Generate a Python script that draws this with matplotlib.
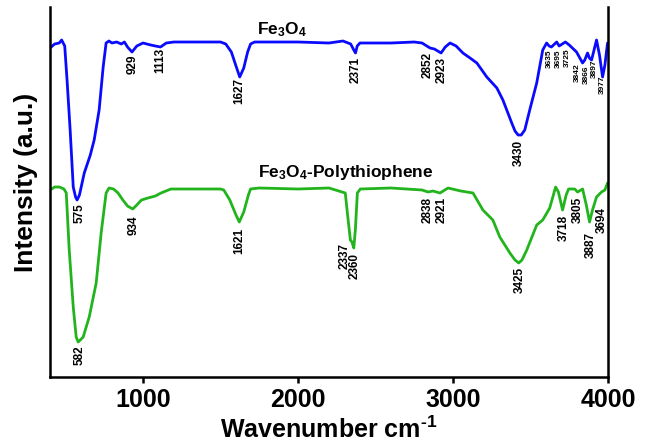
import numpy as np
import matplotlib
matplotlib.use("Agg")
import matplotlib.pyplot as plt

plt.rcParams['font.family'] = ['Liberation Sans', 'DejaVu Sans']
plt.rcParams['mathtext.fontset'] = 'custom'
plt.rcParams['mathtext.rm'] = 'Liberation Sans:bold'
plt.rcParams['mathtext.bf'] = 'Liberation Sans:bold'
plt.rcParams['mathtext.it'] = 'Liberation Sans:bold'

# ---- data (intensity in arbitrary units) ----
fe3o4_wn = [400, 430, 460, 475, 485, 495, 510, 530, 550, 565, 575, 590, 621, 660, 685, 717, 743, 762,
            780, 800, 830, 860, 880, 900, 929, 960, 1000, 1050, 1080, 1113, 1150, 1200, 1500, 1534,
            1570, 1600, 1624, 1650, 1675, 1694, 1720, 2000, 2200, 2290, 2340, 2360, 2371, 2382, 2400,
            2600, 2750, 2800, 2852, 2880, 2923, 2950, 2981, 3020, 3064, 3110, 3154, 3218, 3283, 3322,
            3379, 3400, 3420, 3440, 3463, 3495, 3540, 3579, 3604, 3620, 3635, 3669, 3685, 3695, 3725,
            3750, 3797, 3836, 3850, 3868, 3880, 3894, 3910, 3926, 3945, 3965, 3980, 3997]
fe3o4_int = [329, 333, 334, 337, 334, 331, 297, 247, 190, 180, 177, 182, 204, 222, 237, 267, 310, 334,
             336, 334, 335, 333, 335, 330, 325, 331, 334, 332, 331, 330, 334, 335, 335, 333,
             325, 311, 300, 309, 325, 333, 335, 335, 334, 336, 333, 327, 324, 331, 334,
             334, 335, 334, 329, 328, 324, 330, 334, 331, 324, 319, 314, 300, 289, 277,
             254, 246, 242, 242, 247, 267, 294, 327, 334, 331, 330, 335, 331, 332, 335,
             332, 325, 314, 317, 324, 319, 317, 327, 337, 322, 300, 312, 334]

ptp_wn = [400, 430, 460, 490, 505, 524, 550, 569, 582, 595, 614, 653, 698, 730, 762, 781, 810, 839,
          870, 900, 934, 960, 990, 1032, 1080, 1116, 1180, 1500, 1521, 1560, 1600, 1621, 1650, 1680,
          1694, 1750, 2000, 2200, 2305, 2320, 2338, 2348, 2360, 2370, 2383, 2402, 2600, 2700, 2800,
          2839, 2871, 2916, 2968, 3050, 3129, 3193, 3257, 3302, 3367, 3400, 3424, 3445, 3476, 3540,
          3579, 3624, 3662, 3680, 3707, 3730, 3746, 3785, 3804, 3836, 3860, 3881, 3900, 3926, 3958,
          3980, 3997]
ptp_int = [187, 190, 190, 188, 184, 127, 70, 40, 35, 37, 40, 60, 94, 144, 184, 189, 188, 184,
           177, 171, 168, 172, 177, 179, 181, 184, 188, 188, 187, 177, 162, 155, 165, 182,
           188, 189, 188, 189, 184, 162, 137, 135, 129, 147, 184, 188, 189, 188, 187,
           185, 186, 184, 189, 186, 184, 167, 157, 140, 124, 117, 114, 117, 127, 152,
           157, 169, 190, 185, 167, 182, 188, 188, 185, 188, 172, 155, 167, 180, 185,
           187, 194]

# peak labels: text, wavenumber position, top of label (intensity units)
fe3o4_labels = ["575", "929", "1113", "1627", "2371", "2852", "2923", "3430"]
fe3o4_label_x = [588, 936, 1109, 1624, 2370, 2839, 2929, 3424]
fe3o4_label_top = [174, 322, 329, 299, 320, 325, 320, 237]

fe3o4_small = ["3635", "3695", "3725", "3842", "3866", "3897", "3977"]
fe3o4_small_x = [3624, 3682, 3740, 3804, 3862, 3913, 3965]
fe3o4_small_top = [327, 327, 329, 314, 312, 317, 302]

ptp_labels = ["582", "934", "1621", "2337", "2360", "2838", "2921", "3425", "3718", "3805", "3887", "3694"]
ptp_label_x = [588, 942, 1624, 2300, 2366, 2839, 2929, 3431, 3714, 3804, 3887, 3958]
ptp_label_top = [32, 162, 149, 134, 124, 180, 180, 110, 162, 180, 145, 170]

x_ticks = [1000, 2000, 3000, 4000]

# ---- figure ----
fig = plt.figure(figsize=(6.48, 4.48), dpi=100)
ax = fig.add_axes([50 / 648, (448 - 377) / 448, 558 / 648, 370 / 448])

blue = '#0a0aff'
green = '#22b41c'
ax.plot(fe3o4_wn, fe3o4_int, color=blue, lw=2.0, solid_joinstyle='round', solid_capstyle='round')
ax.plot(ptp_wn, ptp_int, color=green, lw=2.0, solid_joinstyle='round', solid_capstyle='round')

for t, x, y in zip(fe3o4_labels, fe3o4_label_x, fe3o4_label_top):
    ax.text(x, y, t, rotation=90, ha='center', va='top', fontsize=8.5, fontweight='bold')
for t, x, y in zip(fe3o4_small, fe3o4_small_x, fe3o4_small_top):
    ax.text(x, y, t, rotation=90, ha='center', va='top', fontsize=6, fontweight='bold')
for t, x, y in zip(ptp_labels, ptp_label_x, ptp_label_top):
    ax.text(x, y, t, rotation=90, ha='center', va='top', fontsize=8.5, fontweight='bold')

ax.text(1894, 347, r'Fe$_{\mathbf{3}}$O$_{\mathbf{4}}$', ha='center', va='center',
        fontsize=12.5, fontweight='bold')
ax.text(2305, 205, r'Fe$_{\mathbf{3}}$O$_{\mathbf{4}}$-Polythiophene', ha='center', va='center',
        fontsize=12.5, fontweight='bold')

ax.set_xlim(400, 4000)
ax.set_ylim(0, 370)
ax.set_xticks(x_ticks)
ax.set_xticklabels([str(v) for v in x_ticks], fontsize=18, fontweight='bold')
ax.set_yticks([])
ax.spines['top'].set_visible(False)
for s in ['left', 'right', 'bottom']:
    ax.spines[s].set_linewidth(1.8)
ax.tick_params(axis='x', direction='out', length=4, width=1.8, pad=4)
ax.set_xlabel('Wavenumber cm$^{\\mathbf{\u2010}\\mathbf{1}}$', fontsize=18, fontweight='bold', labelpad=3)
ax.set_ylabel('Intensity (a.u.)', fontsize=19, fontweight='bold')
ax.yaxis.set_label_coords(-0.022, 0.527)

fig.savefig('out.png', dpi=100)
